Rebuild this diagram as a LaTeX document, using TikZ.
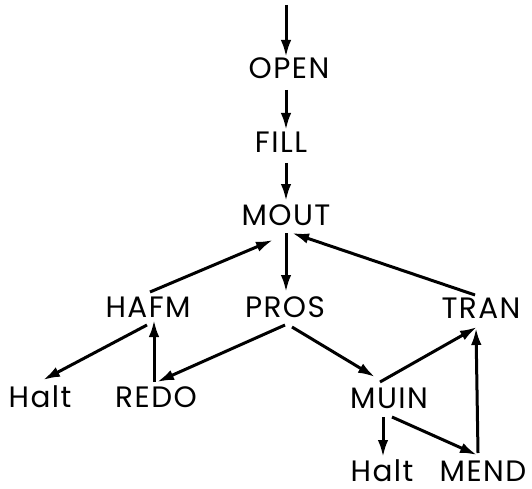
\documentclass[tikz,border=0pt]{standalone}
\usepackage{fontspec}
\setmainfont{Poppins}[LetterSpace=5]
\usetikzlibrary{arrows.meta}
\begin{document}
\begin{tikzpicture}[x=1pt,y=-1pt,
  lbl/.style={anchor=base,inner sep=0pt,font=\fontsize{29.5}{29.5}\selectfont},
  arr/.style={line width=3pt,-{Latex[length=17pt,width=10.5pt]}}]
\useasboundingbox (0,0) rectangle (532,489);
\coordinate (top) at (286,5);
\node[lbl] (open) at (289,79) {OPEN};
\node[lbl] (fill) at (281,153) {FILL};
\node[lbl] (mout) at (286,225) {MOUT};
\node[lbl] (hafm) at (148,317) {HAFM};
\node[lbl] (pros) at (285,317) {PROS};
\node[lbl] (tran) at (481,318) {TRAN};
\node[lbl] (halta) at (40,407) {Halt};
\node[lbl] (redo) at (156,407) {REDO};
\node[lbl] (muin) at (389,408) {MUIN};
\node[lbl] (haltb) at (382,481) {Halt};
\node[lbl] (mend) at (483,481) {MEND};
\draw[arr] (top) -- ([shift={(-3,-22)}]open.base);
\draw[arr] ([shift={(-3,11)}]open.base) -- ([shift={(5,-23)}]fill.base);
\draw[arr] ([shift={(5,10)}]fill.base) -- ([shift={(0,-24)}]mout.base);
\draw[arr] ([shift={(2,-25)}]hafm.base) -- ([shift={(-13,15)}]mout.base);
\draw[arr] ([shift={(0,8)}]mout.base) -- ([shift={(1,-25)}]pros.base);
\draw[arr] ([shift={(-6,-23)}]tran.base) -- ([shift={(6,8)}]mout.base);
\draw[arr] ([shift={(-1,8)}]hafm.base) -- ([shift={(3,-27)}]halta.base);
\draw[arr] ([shift={(-2,-25)}]redo.base) -- ([shift={(6,3)}]hafm.base);
\draw[arr] ([shift={(0,8)}]pros.base) -- ([shift={(1,-25)}]redo.base);
\draw[arr] ([shift={(7,10)}]pros.base) -- ([shift={(-14,-31)}]muin.base);
\draw[arr] ([shift={(-9,-26)}]muin.base) -- ([shift={(-4,9)}]tran.base);
\draw[arr] ([shift={(-5,-28)}]mend.base) -- ([shift={(-5,10)}]tran.base);
\draw[arr] ([shift={(-6,9)}]muin.base) -- ([shift={(1,-24)}]haltb.base);
\draw[arr] ([shift={(3,9)}]muin.base) -- ([shift={(-6,-26)}]mend.base);
\end{tikzpicture}
\end{document}
